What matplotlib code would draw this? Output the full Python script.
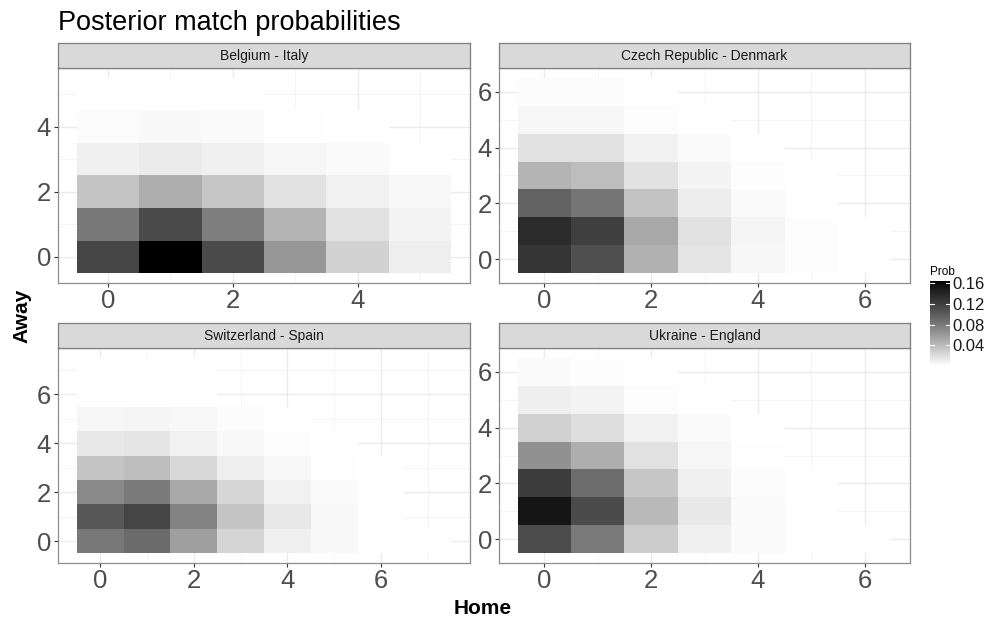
import numpy as np
import matplotlib
matplotlib.use('Agg')
import matplotlib.pyplot as plt
from matplotlib.colors import ListedColormap, Normalize
from matplotlib.cm import ScalarMappable
from matplotlib.ticker import MultipleLocator

plt.rcParams['font.family'] = ['Liberation Sans', 'DejaVu Sans']

N = None
matches = ['Belgium - Italy', 'Czech Republic - Denmark',
           'Switzerland - Spain', 'Ukraine - England']

# rows = away goals 0,1,2,...  columns = home goals 0,1,2,...
belgium_italy = [
    [0.116, 0.164, 0.112, 0.062, 0.026, 0.0098],
    [0.081, 0.112, 0.077, 0.044, 0.018, 0.0075],
    [0.034, 0.048, 0.033, 0.018, 0.0085, 0.0044],
    [0.009, 0.012, 0.009, 0.0055, 0.003, 0.0007],
    [0.0025, 0.0035, 0.003, 0.0013, 0.0007, N],
    [0.0007, 0.0007, 0.0004, N, N, N],
]
czech_denmark = [
    [0.128, 0.108, 0.046, 0.016, 0.005, 0.002, 0.0007],
    [0.135, 0.120, 0.051, 0.018, 0.006, 0.002, 0.0007],
    [0.096, 0.083, 0.035, 0.011, 0.003, 0.0008, N],
    [0.044, 0.039, 0.017, 0.007, 0.002, 0.0007, N],
    [0.018, 0.018, 0.008, 0.003, 0.0007, N, N],
    [0.0055, 0.0055, 0.002, 0.0007, N, N, N],
    [0.0025, 0.0025, 0.0008, N, N, N, N],
]
switzerland_spain = [
    [0.081, 0.090, 0.057, 0.025, 0.009, 0.0035, 0.001, 0.0002],
    [0.103, 0.116, 0.074, 0.034, 0.013, 0.0045, 0.0012, N],
    [0.070, 0.080, 0.051, 0.024, 0.0085, 0.003, 0.0008, N],
    [0.034, 0.038, 0.023, 0.010, 0.0045, 0.0012, 0.0005, N],
    [0.013, 0.015, 0.0085, 0.004, 0.0015, 0.0006, N, N],
    [0.0055, 0.0065, 0.0045, 0.0025, 0.0008, N, N, N],
    [0.0012, 0.0012, 0.0008, N, N, N, N, N],
    [0.0005, 0.0005, 0.0002, N, N, N, N, N],
]
ukraine_england = [
    [0.111, 0.080, 0.030, 0.009, 0.003, 0.0008, 0.0002],
    [0.153, 0.112, 0.041, 0.013, 0.003, 0.0008, N],
    [0.122, 0.089, 0.033, 0.009, 0.0025, 0.0006, N],
    [0.066, 0.048, 0.018, 0.0055, 0.0012, N, N],
    [0.027, 0.019, 0.008, 0.003, 0.0008, N, N],
    [0.0095, 0.0075, 0.002, 0.0008, N, N, N],
    [0.003, 0.002, 0.0008, N, N, N, N],
]
prob_ticks = [0.04, 0.08, 0.12, 0.16]

grids = []
for rows in [belgium_italy, czech_denmark, switzerland_spain, ukraine_england]:
    arr = np.array([[np.nan if v is None else v for v in r] for r in rows], float)
    grids.append(np.ma.masked_invalid(arr))

# white -> black gradient, linear in L* (like ggplot's scale_fill_gradient)
L = np.linspace(100, 0, 256)
Y = np.where(L > 8, ((L + 16) / 116) ** 3, L / 903.3)
g = np.where(Y > 0.0031308, 1.055 * Y ** (1 / 2.4) - 0.055, 12.92 * Y)
cmap = ListedColormap(np.column_stack([g, g, g]))
norm = Normalize(min(gr.min() for gr in grids), max(gr.max() for gr in grids))

W, H = 993, 619
fig = plt.figure(figsize=(W / 100, H / 100), dpi=100)

boxes = [(58, 470, 68, 283), (499, 910, 68, 283),
         (58, 470, 348, 563), (499, 910, 348, 563)]

for grid, name, (l, r, t, b) in zip(grids, matches, boxes):
    ax = fig.add_axes([l / W, 1 - b / H, (r - l) / W, (b - t) / H])
    ny, nx = grid.shape
    ax.pcolormesh(np.arange(nx + 1) - 0.5, np.arange(ny + 1) - 0.5, grid,
                  cmap=cmap, norm=norm, zorder=2, edgecolors='face', linewidth=0)
    ax.set_xlim(-0.5 - 0.05 * nx, nx - 0.5 + 0.05 * nx)
    ax.set_ylim(-0.5 - 0.05 * ny, ny - 0.5 + 0.05 * ny)
    for axis in [ax.xaxis, ax.yaxis]:
        axis.set_major_locator(MultipleLocator(2))
        axis.set_minor_locator(MultipleLocator(1))
    ax.grid(which='major', color='#EBEBEB', lw=1.0, zorder=0)
    ax.grid(which='minor', color='#F2F2F2', lw=0.6, zorder=0)
    ax.set_axisbelow(True)
    ax.tick_params(which='major', labelsize=18.5, labelcolor='#4D4D4D',
                   color='#333333', length=2.6, width=0.8)
    ax.tick_params(axis='x', which='major', pad=1.5)
    ax.tick_params(axis='y', which='major', pad=2.5)
    ax.tick_params(which='minor', length=0)
    for sp in ax.spines.values():
        sp.set_color('#8C8C8C')
        sp.set_linewidth(0.9)

    sax = fig.add_axes([l / W, 1 - t / H, (r - l) / W, 25 / H])
    sax.set_facecolor('#D9D9D9')
    sax.set_xticks([])
    sax.set_yticks([])
    for sp in sax.spines.values():
        sp.set_color('#7F7F7F')
        sp.set_linewidth(0.9)
    sax.text(0.5, 0.48, name, ha='center', va='center', fontsize=10,
             color='#1A1A1A', transform=sax.transAxes)

fig.text(58 / W, 1 - 30 / H, 'Posterior match probabilities', fontsize=19.5,
         ha='left', va='baseline')
fig.text(22 / W, 1 - 316 / H, 'Away', rotation=90, fontsize=15,
         fontweight='bold', ha='center', va='center')
fig.text(483 / W, 1 - 608 / H, 'Home', fontsize=15, fontweight='bold',
         ha='center', va='center')

cax = fig.add_axes([930 / W, 1 - 366 / H, 20 / W, 85 / H])
cb = fig.colorbar(ScalarMappable(norm=norm, cmap=cmap), cax=cax)
cb.outline.set_visible(False)
cb.set_ticks(prob_ticks)
cb.set_ticklabels(['%.2f' % v for v in prob_ticks])
cax.tick_params(length=0, labelsize=12, labelcolor='#1A1A1A', pad=2)
for v in prob_ticks:
    cax.axhline(v, xmin=0, xmax=0.2, color='white', lw=0.8)
    cax.axhline(v, xmin=0.8, xmax=1, color='white', lw=0.8)
fig.text(930 / W, 1 - 272 / H, 'Prob', fontsize=8.5, ha='left', va='center')

fig.savefig('out.png', dpi=100)
